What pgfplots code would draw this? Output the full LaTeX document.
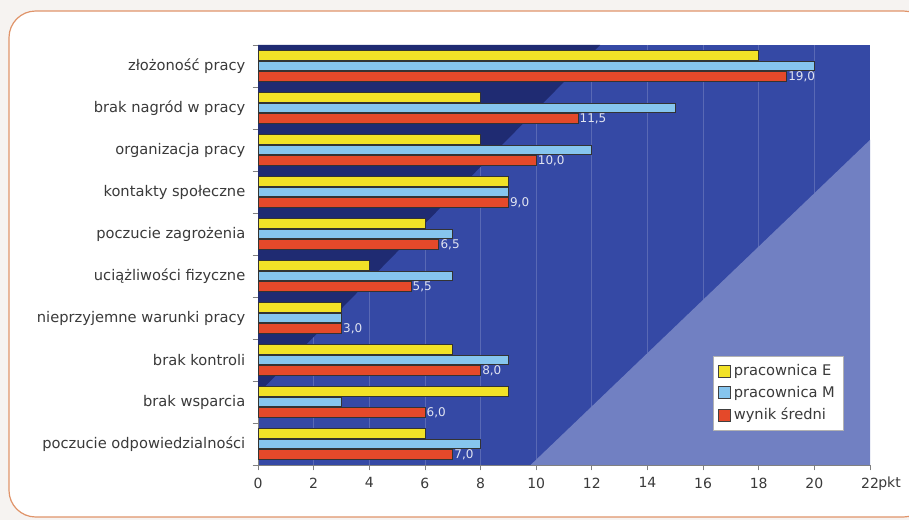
\documentclass[border=0pt]{standalone}
\usepackage{fontspec}
\setmainfont{DejaVu Sans}
\usepackage{pgfplots}
\pgfplotsset{compat=1.18}
\definecolor{outerbg}{HTML}{F6F3F1}
\definecolor{frameor}{HTML}{E0946A}
\definecolor{bgblue}{HTML}{3549A5}
\definecolor{darkblue}{HTML}{1F2B72}
\definecolor{lightblue}{HTML}{7180C2}
\definecolor{barY}{HTML}{F2E227}
\definecolor{barB}{HTML}{86C5EE}
\definecolor{barR}{HTML}{E4492A}
\definecolor{txt}{HTML}{3A3A3A}
\begin{document}
\begin{tikzpicture}
\begin{scope}[x=0.75pt,y=0.75pt]
\fill[outerbg] (0,0) rectangle (909,520);
\useasboundingbox (0,0) rectangle (909,520);
\clip (0,0) rectangle (909,520);
\draw[frameor, line width=0.9pt, fill=white, rounded corners=20] (9,3) rectangle (930,509);
\end{scope}
\begin{axis}[
  name=ax,
  at={(193.5pt,41.25pt)}, anchor=south west,
  scale only axis, width=459pt, height=315pt,
  xmin=0, xmax=22, ymin=-0.5, ymax=9.5,
  /pgf/number format/assume math mode=true,
  xtick={0,2,...,22},
  ytick={0,...,9},
  yticklabels={poczucie odpowiedzialności, brak wsparcia, brak kontroli, nieprzyjemne warunki pracy, uciążliwości fizyczne, poczucie zagrożenia, kontakty społeczne, organizacja pracy, brak nagród w pracy, złożoność pracy},
  ytick style={draw=none},
  extra y ticks={-0.5,0.5,...,9.5},
  extra y tick labels={},
  extra y tick style={ytick style={draw=gray, line width=0.6pt}, major tick length=4pt, grid=none},
  axis lines*=left,
  axis line style={gray, line width=0.6pt},
  xtick style={draw=gray, line width=0.6pt},
  major tick length=4pt,
  tick align=outside,
  xmajorgrids,
  grid style={white, opacity=0.18, line width=0.5pt},
  axis background/.style={fill=bgblue},
  tick label style={font=\fontsize{10.5}{12}\selectfont, text=txt},
  yticklabel style={xshift=-2pt, font=\fontsize{11}{12}\selectfont},
  xticklabel style={yshift=-2pt},
  legend style={at={(0.743,0.083)}, anchor=south west, draw=gray!60, fill=white,
    font=\fontsize{11}{13}\selectfont, text=txt, row sep=2.5pt, inner xsep=4pt, inner ysep=4pt},
  legend cell align=left,
  legend image code/.code={\draw[#1, draw=black!75, line width=0.6pt] (0pt,-4.5pt) rectangle (9pt,4.5pt);},
]
\fill[darkblue] (axis cs:0,9.5) -- (axis cs:12.3,9.5) -- (axis cs:0,1.2) -- cycle;
\fill[lightblue] (axis cs:9.8,-0.5) -- (axis cs:22,-0.5) -- (axis cs:22,7.24) -- cycle;
\addplot[xbar, bar width=7.1pt, bar shift=7.9pt, fill=barY, draw=black!80, line width=0.6pt]
  coordinates {(6,0) (9,1) (7,2) (3,3) (4,4) (6,5) (9,6) (8,7) (8,8) (18,9)};
\addlegendentry{pracownica E}
\addplot[xbar, bar width=7.1pt, bar shift=0pt, fill=barB, draw=black!80, line width=0.6pt]
  coordinates {(8,0) (3,1) (9,2) (3,3) (7,4) (7,5) (9,6) (12,7) (15,8) (20,9)};
\addlegendentry{pracownica M}
\addplot[xbar, bar width=7.1pt, bar shift=-7.9pt, fill=barR, draw=black!80, line width=0.6pt,
  nodes near coords={\pgfmathprintnumber[fixed,fixed zerofill,precision=1,use comma,assume math mode=true]{\pgfplotspointmeta}},
  nodes near coords style={anchor=west, inner sep=1pt, yshift=-7.9pt, font=\fontsize{9}{10}\selectfont, text=white!85!bgblue}]
  coordinates {(7,0) (6,1) (8,2) (3,3) (5.5,4) (6.5,5) (9,6) (10,7) (11.5,8) (19,9)};
\addlegendentry{wynik średni}
\end{axis}
\node[anchor=base west, font=\fontsize{10.5}{12}\selectfont, text=txt, inner sep=0pt] at ([xshift=6pt,yshift=-17pt]ax.south east) {pkt};
\end{tikzpicture}
\end{document}
